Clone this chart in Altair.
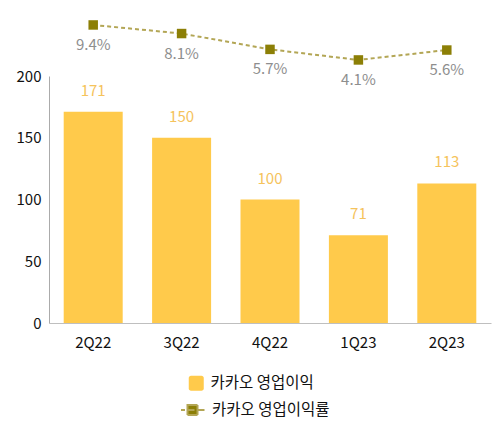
import pandas as pd
import altair as alt

# values
quarters = ['2Q22', '3Q22', '4Q22', '1Q23', '2Q23']
profit = [171, 150, 100, 71, 113]
margin = [9.4, 8.1, 5.7, 4.1, 5.6]
margin_labels = ['9.4%', '8.1%', '5.7%', '4.1%', '5.6%']
y_ticks = [0, 50, 100, 150, 200]
bar_name = '카카오 영업이익'
line_name = '카카오 영업이익률'

BAR = '#FFCA4B'
BAR_TEXT = '#F5C35C'
OLIVE = '#8C7F06'
DASH = '#B3A655'
GREY = '#8E8E8E'
FONT = 'Noto Sans CJK KR'

df = pd.DataFrame({
    'quarter': quarters,
    'profit': profit,
    'margin': margin,
    'margin_label': margin_labels,
    'bar_series': [bar_name] * len(quarters),
    'line_series': [line_name] * len(quarters),
})

x = alt.X('quarter:N', sort=quarters, title=None,
          scale=alt.Scale(paddingInner=0.33, paddingOuter=0.165),
          axis=alt.Axis(labelAngle=0, ticks=False, domainColor='#BFBFBF',
                        labelPadding=12, labelFontSize=15, labelColor='#111',
                        labelFont=FONT))

y_bar = alt.Y('profit:Q', title=None,
              scale=alt.Scale(domain=[0, 200], range=[313, 66], nice=False),
              axis=alt.Axis(values=y_ticks, ticks=False, grid=False,
                            domainColor='#ABABAB', labelPadding=8,
                            labelFontSize=15, labelColor='#111', labelFont=FONT))

# legend symbols: rounded square for the bars, "- ■-" for the line
rounded = ('M-0.7,-1H0.7A0.3,0.3 0 0 1 1,-0.7V0.7A0.3,0.3 0 0 1 0.7,1'
           'H-0.7A0.3,0.3 0 0 1 -1,0.7V-0.7A0.3,0.3 0 0 1 -0.7,-1Z')
dash_square = ('M-1.15,0H-0.75M-0.55,0H0.2M0.45,0H1.2'
               'M-0.5,-0.5H0.5V0.5H-0.5Z')

bars = alt.Chart(df).mark_bar(size=59).encode(
    x=x,
    y=y_bar,
    color=alt.Color('bar_series:N',
                    scale=alt.Scale(domain=[bar_name], range=[BAR]),
                    legend=alt.Legend(title=None, orient='none',
                                      legendX=139.5, legendY=365.5,
                                      symbolType=rounded, symbolSize=225,
                                      symbolStrokeWidth=0, labelOffset=6.5,
                                      labelFontSize=15.5, labelColor='#111',
                                      labelFont=FONT, padding=0))
)

bar_text = alt.Chart(df).mark_text(
    baseline='middle', dy=-21, fontSize=15, color=BAR_TEXT, font=FONT
).encode(x=x, y=y_bar, text=alt.Text('profit:Q'))

y_line = alt.Y('margin:Q', title=None,
               scale=alt.Scale(domain=[0, 10], range=[77, 11], nice=False),
               axis=None)

line = alt.Chart(df).mark_line(strokeDash=[4, 3], strokeWidth=2).encode(
    x=x,
    y=y_line,
    stroke=alt.Stroke('line_series:N',
                      scale=alt.Scale(domain=[line_name], range=[DASH]),
                      legend=alt.Legend(title=None, orient='none',
                                        legendX=132.5, legendY=389,
                                        symbolType=dash_square, symbolSize=400,
                                        symbolStrokeWidth=2,
                                        symbolFillColor=OLIVE,
                                        symbolDash=[1, 0],
                                        labelOffset=8.5, labelFontSize=15.5,
                                        labelColor='#111', labelFont=FONT,
                                        padding=0))
)

points = alt.Chart(df).mark_point(
    shape='square', filled=True, size=90, color=OLIVE, opacity=1
).encode(x=x, y=y_line)

line_text = alt.Chart(df).mark_text(
    baseline='middle', dy=20, fontSize=15, color=GREY, font=FONT
).encode(x=x, y=y_line, text='margin_label:N')

chart = alt.layer(
    alt.layer(bars, bar_text),
    alt.layer(line, points, line_text),
).resolve_scale(y='independent').properties(
    width=442,
    height=313,
    autosize=alt.AutoSizeParams(type='none'),
    padding={'left': 41, 'top': 2, 'right': 3, 'bottom': 97},
).configure_view(stroke=None)

chart.save("out.html", embed_options={"renderer": "svg", "actions": False})
